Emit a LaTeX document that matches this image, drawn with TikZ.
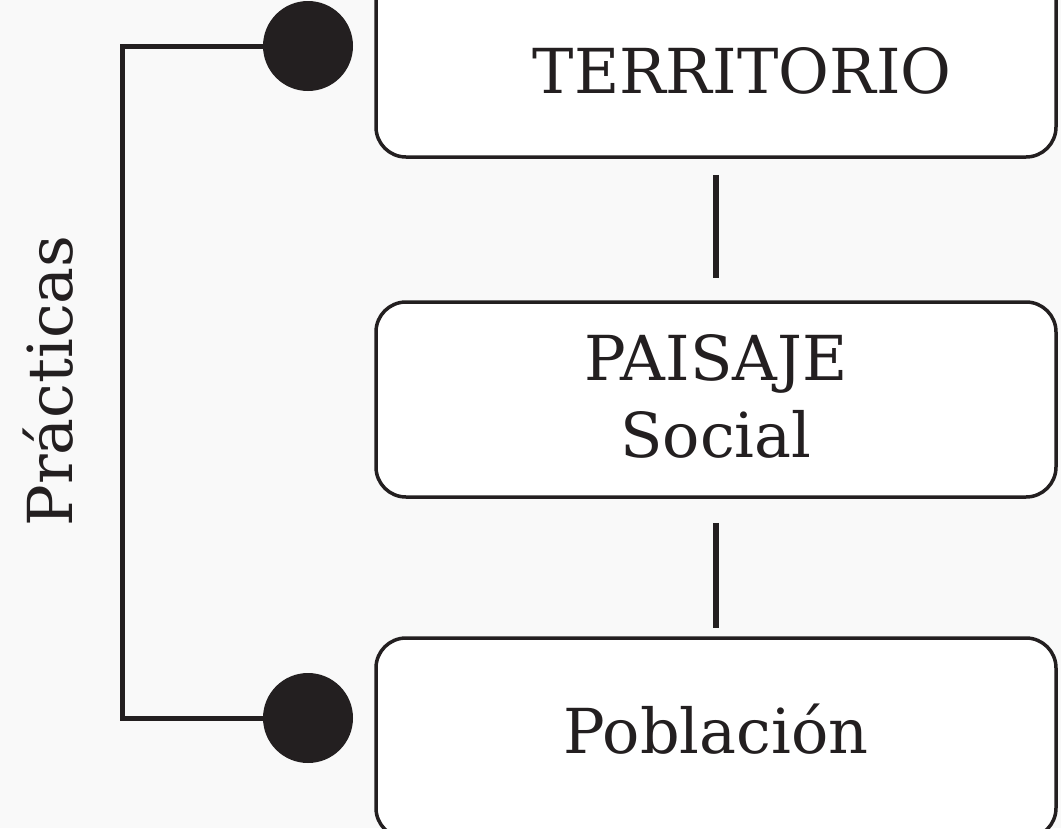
\documentclass[tikz,border=0pt]{standalone}
\usepackage{fontspec}
\setmainfont{DejaVu Serif}
\definecolor{ink}{HTML}{231F20}
\definecolor{bg}{HTML}{F9F9F9}
\begin{document}
\begin{tikzpicture}[x=1pt,y=-1pt,
  box/.style={draw=ink,line width=3.5pt,fill=white,rounded corners=30pt,minimum width=680pt,inner sep=0pt},
  lbl/.style={text=ink,font=\fontsize{62}{77}\selectfont,inner sep=0pt,align=center},
  dot/.style={circle,fill=ink,minimum size=90pt,inner sep=0pt},
  link/.style={draw=ink,line width=6pt},
  brace/.style={draw=ink,line width=5pt}]
\path[use as bounding box,fill=bg] (0,0) rectangle (1061,828);
\clip (0,0) rectangle (1061,828);
\node[box,minimum height=200pt] (top) at (716,57) {};
\node[box,minimum height=195pt] (mid) at (716,399.5) {};
\node[box,minimum height=200pt] (bot) at (716,738) {};
\node[lbl,anchor=base] (t1) at (742,93) {TERRITORIO};
\node[lbl,anchor=base] (t2) at (716,457) {PAISAJE\\Social};
\node[lbl,anchor=base] (t3) at (716,753) {Población};
\draw[link,shorten <=16pt,shorten >=22pt] (top.south) -- (mid.north);
\draw[link,shorten <=24pt,shorten >=8pt] (mid.south) -- (bot.north);
\node[dot] (c1) at (308,46) {};
\node[dot] (c2) at (308,718) {};
\coordinate (k1) at (122,46);
\coordinate (k2) at (122,718);
\draw[brace] (c1) -- (k1) -- (k2) -- (c2);
\node[lbl,rotate=90,anchor=base] (pr) at (72,381) {Prácticas};
\end{tikzpicture}
\end{document}
